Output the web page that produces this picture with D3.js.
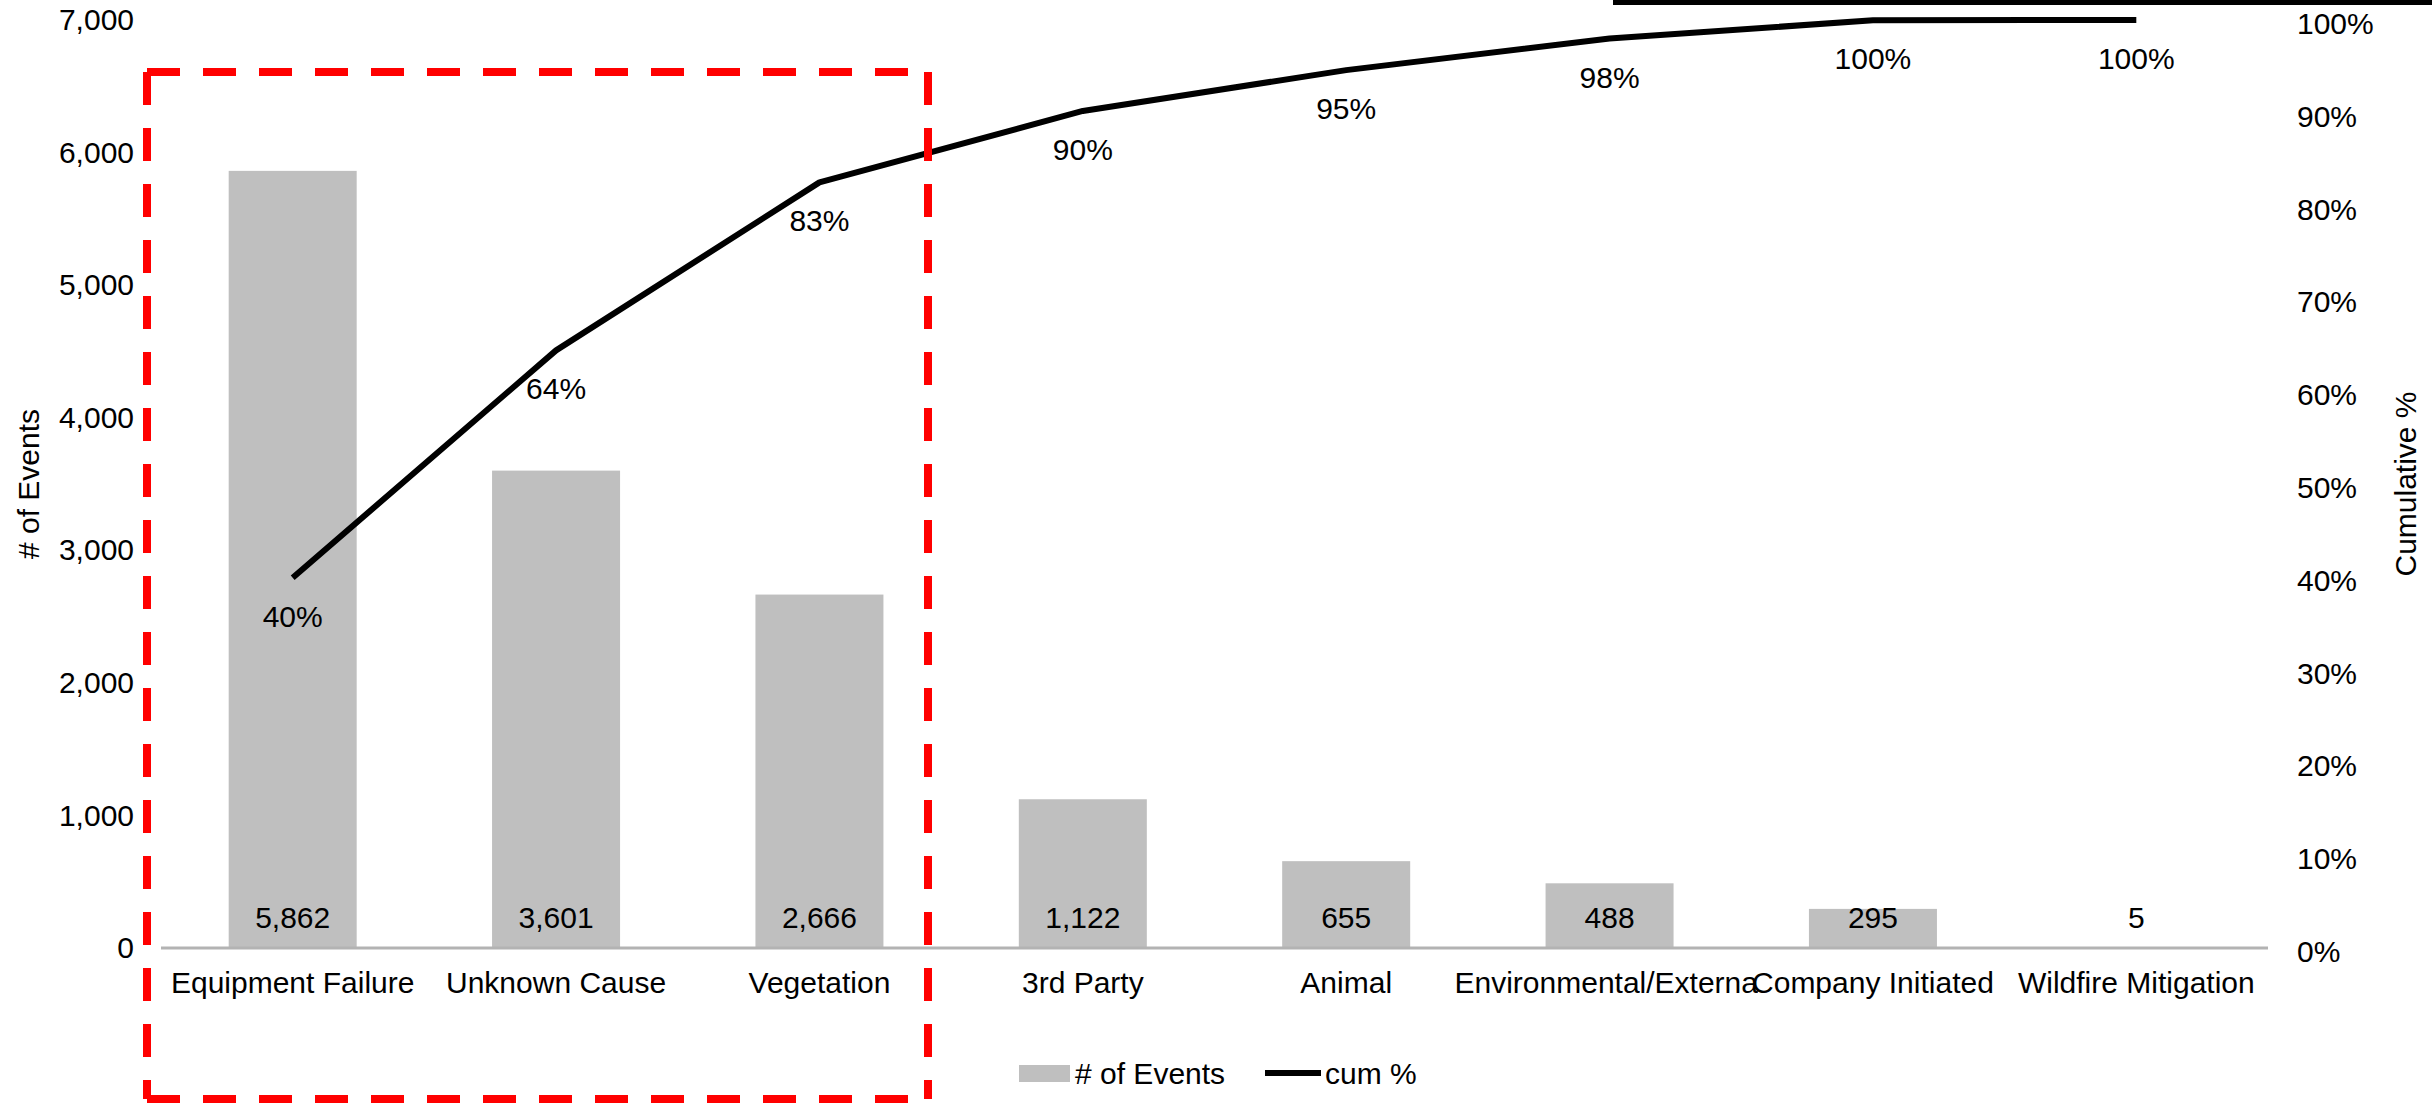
<!DOCTYPE html>
<html>
<head>
<meta charset="utf-8">
<script src="https://cdn.jsdelivr.net/npm/d3@7"></script>
<style>
  html, body { margin: 0; padding: 0; background: #ffffff; }
  svg { display: block; font-family: "Liberation Sans", Arial, sans-serif; }
</style>
</head>
<body>
<svg id="chart" width="2432" height="1103"></svg>
<script>
// Outage causes, sorted by event count (Pareto order)
const categories = [
  "Equipment Failure", "Unknown Cause", "Vegetation", "3rd Party",
  "Animal", "Environmental/External", "Company Initiated", "Wildfire Mitigation"
];
const eventCounts = [5862, 3601, 2666, 1122, 655, 488, 295, 5];
// Cumulative share of events
const cumShare = [0.399, 0.644, 0.825, 0.902, 0.946, 0.980, 0.9997, 1.0];

const leftTicks = [0, 1000, 2000, 3000, 4000, 5000, 6000, 7000];
const rightTicks = [0, 0.1, 0.2, 0.3, 0.4, 0.5, 0.6, 0.7, 0.8, 0.9, 1.0];

const seriesNames = ["# of Events", "cum %"];
const axisTitles = { left: "# of Events", right: "Cumulative %" };

// Layout
const plot = { left: 161, right: 2268, top: 20, bottom: 948 };
const fontSize = 30;
const barColor = "#bfbfbf";
const textColor = "#000000";

const svg = d3.select("#chart");

const x = d3.scaleBand()
  .domain(categories)
  .range([plot.left, plot.right])
  .paddingInner(0.514)
  .paddingOuter(0.257);

const yLeft = d3.scaleLinear().domain([0, 7000]).range([plot.bottom, plot.top]);
const yRight = d3.scaleLinear().domain([0, 1]).range([plot.bottom, plot.top]);

// Bars
svg.append("g").selectAll("rect")
  .data(categories.map((c, i) => ({ c, v: eventCounts[i] })))
  .join("rect")
  .attr("x", d => x(d.c))
  .attr("width", x.bandwidth())
  .attr("y", d => yLeft(d.v))
  .attr("height", d => yLeft(0) - yLeft(d.v))
  .attr("fill", barColor);

// Category axis baseline
svg.append("line")
  .attr("x1", plot.left).attr("x2", plot.right)
  .attr("y1", yLeft(0)).attr("y2", yLeft(0))
  .attr("stroke", "#b3b3b3").attr("stroke-width", 3);

// Count labels at the foot of each bar
const fmtCount = d3.format(",");
svg.append("g").selectAll("text")
  .data(categories.map((c, i) => ({ c, v: eventCounts[i] })))
  .join("text")
  .attr("x", d => x(d.c) + x.bandwidth() / 2)
  .attr("y", yLeft(0) - 20)
  .attr("text-anchor", "middle")
  .attr("font-size", fontSize)
  .attr("fill", textColor)
  .text(d => fmtCount(d.v));

// Category labels (bottom axis)
const xAxis = d3.axisBottom(x).tickSize(0).tickPadding(0);
const gx = svg.append("g")
  .attr("transform", `translate(0,${plot.bottom})`)
  .call(xAxis);
gx.select(".domain").remove();
gx.selectAll("text")
  .attr("font-size", fontSize)
  .attr("font-family", "Liberation Sans, Arial, sans-serif")
  .attr("fill", textColor)
  .attr("dy", null)
  .attr("y", 45);

// The long "Environmental/External" label loses its last letter under the next label
{
  const ticks = gx.selectAll(".tick").nodes();
  const envIdx = categories.indexOf("Environmental/External");
  const envText = d3.select(ticks[envIdx]).select("text").node();
  const n = envText.getNumberOfChars();
  const cut = envText.getStartPositionOfChar(n - 1).x;
  svg.append("clipPath").attr("id", "envClip")
    .append("rect")
    .attr("x", -400).attr("y", -10)
    .attr("width", cut + 400).attr("height", 80);
  envText.setAttribute("clip-path", "url(#envClip)");
}

// Left value axis
const gyl = svg.append("g")
  .attr("transform", `translate(${plot.left},0)`)
  .call(d3.axisLeft(yLeft).tickValues(leftTicks).tickFormat(fmtCount).tickSize(0).tickPadding(27));
gyl.select(".domain").remove();
gyl.selectAll("text")
  .attr("font-size", fontSize)
  .attr("font-family", "Liberation Sans, Arial, sans-serif")
  .attr("fill", textColor);

// Right percentage axis
const fmtPct = d3.format(".0%");
const gyr = svg.append("g")
  .attr("transform", `translate(${plot.right},0)`)
  .call(d3.axisRight(yRight).tickValues(rightTicks).tickFormat(fmtPct).tickSize(0).tickPadding(29));
gyr.select(".domain").remove();
gyr.selectAll("text")
  .attr("font-size", fontSize)
  .attr("font-family", "Liberation Sans, Arial, sans-serif")
  .attr("fill", textColor)
  .attr("dy", "0.45em");

// Axis titles
svg.append("text")
  .attr("transform", `translate(28,${(plot.top + plot.bottom) / 2}) rotate(-90)`)
  .attr("text-anchor", "middle")
  .attr("dominant-baseline", "central")
  .attr("font-size", fontSize)
  .attr("fill", textColor)
  .text(axisTitles.left);

svg.append("text")
  .attr("transform", `translate(2405,${(plot.top + plot.bottom) / 2}) rotate(-90)`)
  .attr("text-anchor", "middle")
  .attr("dominant-baseline", "central")
  .attr("font-size", fontSize)
  .attr("fill", textColor)
  .text(axisTitles.right);

// Cumulative line
const cumPoints = categories.map((c, i) => ({ c, v: cumShare[i] }));
const line = d3.line()
  .x(d => x(d.c) + x.bandwidth() / 2)
  .y(d => yRight(d.v));
svg.append("path")
  .datum(cumPoints)
  .attr("d", line)
  .attr("fill", "none")
  .attr("stroke", "#000000")
  .attr("stroke-width", 6)
  .attr("stroke-linejoin", "round");

// Cumulative labels under each point
svg.append("g").selectAll("text")
  .data(cumPoints)
  .join("text")
  .attr("x", d => x(d.c) + x.bandwidth() / 2)
  .attr("y", d => yRight(d.v) + 49)
  .attr("text-anchor", "middle")
  .attr("font-size", fontSize)
  .attr("fill", textColor)
  .text(d => fmtPct(d.v));

// Legend
const legend = svg.append("g");
legend.append("rect")
  .attr("x", 1019).attr("y", 1065).attr("width", 51).attr("height", 17)
  .attr("fill", barColor);
legend.append("text")
  .attr("x", 1075).attr("y", 1084)
  .attr("font-size", fontSize).attr("fill", textColor)
  .text(seriesNames[0]);
legend.append("line")
  .attr("x1", 1265).attr("x2", 1321).attr("y1", 1073).attr("y2", 1073)
  .attr("stroke", "#000000").attr("stroke-width", 6);
legend.append("text")
  .attr("x", 1325).attr("y", 1084)
  .attr("font-size", fontSize).attr("fill", textColor)
  .text(seriesNames[1]);

// Heavy rule along the top edge
svg.append("rect")
  .attr("x", 1613).attr("y", 0).attr("width", 2432 - 1613).attr("height", 5)
  .attr("fill", "#000000");

// Red dashed highlight around the top three causes
const box = { x1: 147, x2: 928, y1: 72, y2: 1099 };
const boxEdges = [
  [box.x1, box.y1, box.x2, box.y1],
  [box.x1, box.y1, box.x1, box.y2],
  [box.x2, box.y1, box.x2, box.y2],
  [box.x1, box.y2, box.x2, box.y2]
];
svg.append("g").selectAll("line")
  .data(boxEdges)
  .join("line")
  .attr("x1", d => d[0]).attr("y1", d => d[1])
  .attr("x2", d => d[2]).attr("y2", d => d[3])
  .attr("stroke", "#ff0000")
  .attr("stroke-width", 8)
  .attr("stroke-dasharray", "33 23");
</script>
</body>
</html>
